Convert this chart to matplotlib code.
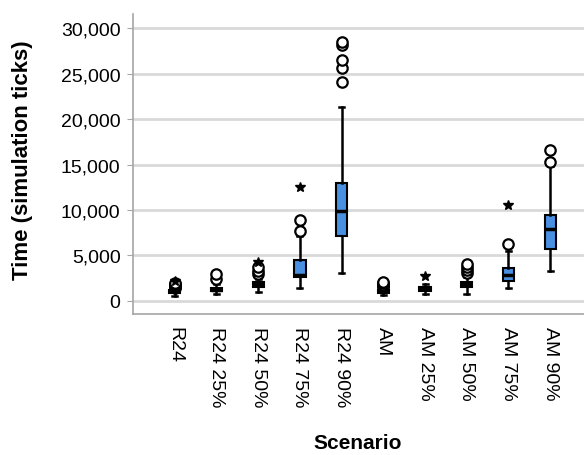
# boxplot of run time per scenario (SPSS style)

import numpy as np
import matplotlib
matplotlib.use('Agg')
import matplotlib.pyplot as plt
from matplotlib.ticker import FuncFormatter

plt.rcParams['font.family'] = ['Liberation Sans', 'DejaVu Sans']

# data
scenarios = ['R24', 'R24 25%', 'R24 50%', 'R24 75%', 'R24 90%',
             'AM', 'AM 25%', 'AM 50%', 'AM 75%', 'AM 90%']
q1 = [900, 1130, 1500, 2600, 7110, 900, 1130, 1500, 2230, 5710]
med = [1050, 1250, 1870, 2860, 9930, 1050, 1320, 1870, 2890, 7910]
q3 = [1200, 1400, 2050, 4550, 12960, 1250, 1500, 2050, 3590, 9450]
whislo = [600, 770, 960, 1450, 3080, 650, 770, 770, 1400, 3260]
whishi = [1500, 1870, 2420, 7180, 21290, 1600, 1870, 2640, 5530, 14870]
outliers = [
    [1450, 1550, 1650, 1750, 1850, 1950],
    [2420, 2970],
    [2970, 3350, 3700],
    [7730, 8930],
    [24100, 25570, 26490, 28170, 28500],
    [1500, 1650, 1800, 1950, 2100],
    [],
    [3040, 3400, 3700, 4050],
    [6260],
    [15310, 16590],
]
extremes = [
    [2150],
    [],
    [4250],
    [12500],
    [],
    [],
    [2700],
    [],
    [10550],
    [],
]
yticks = [0, 5000, 10000, 15000, 20000, 25000, 30000]

blue = '#4a90e2'
grey = '#a6a6a6'

fig = plt.figure(figsize=(5.84, 4.56), dpi=100)
ax = fig.add_axes([133 / 584, 1 - 315 / 456, 1 - 133 / 584, 300 / 456])

pos = np.arange(1, len(scenarios) + 1)
stats = []
for i in range(len(scenarios)):
    stats.append(dict(med=med[i], q1=q1[i], q3=q3[i], whislo=whislo[i],
                      whishi=whishi[i], fliers=outliers[i]))

ax.bxp(stats, positions=pos, widths=0.27, patch_artist=True,
       boxprops=dict(facecolor=blue, edgecolor='black', linewidth=1.5),
       medianprops=dict(color='black', linewidth=2.5),
       whiskerprops=dict(color='black', linewidth=1.8),
       capprops=dict(color='black', linewidth=1.8),
       capwidths=0.12,
       flierprops=dict(marker='o', markerfacecolor='white', markeredgecolor='black',
                       markersize=7.5, markeredgewidth=1.6),
       zorder=3)

# extreme values as stars
for i in range(len(scenarios)):
    if extremes[i]:
        ax.plot([pos[i]] * len(extremes[i]), extremes[i], linestyle='none',
                marker='*', color='black', markersize=7, zorder=4)

ax.set_xlim(0, 10.81)
ax.set_ylim(-1430, 31540)
ax.set_yticks(yticks)
ax.yaxis.set_major_formatter(FuncFormatter(lambda v, p: '{:,.0f}'.format(v)))
ax.set_xticks(pos)
ax.set_xticklabels(scenarios, rotation=270, va='top', ha='center')
ax.grid(axis='y', color='#d9d9d9', linewidth=2, zorder=0)
ax.set_axisbelow(True)

for s in ['top', 'right']:
    ax.spines[s].set_visible(False)
for s in ['left', 'bottom']:
    ax.spines[s].set_color(grey)
    ax.spines[s].set_linewidth(1.2)

ax.tick_params(axis='y', length=4, color=grey, labelsize=14, pad=5)
ax.tick_params(axis='x', length=0, labelsize=14, pad=9)

ax.set_xlabel('Scenario', fontsize=15, fontweight='bold')
ax.xaxis.set_label_coords(0.499, -0.427)
ax.xaxis.label.set_va('center')
ax.set_ylabel('Time (simulation ticks)', fontsize=16, fontweight='bold')
ax.yaxis.set_label_coords(-0.244, 0.517)
ax.yaxis.label.set_va('center')

fig.savefig('out.png', dpi=100)
